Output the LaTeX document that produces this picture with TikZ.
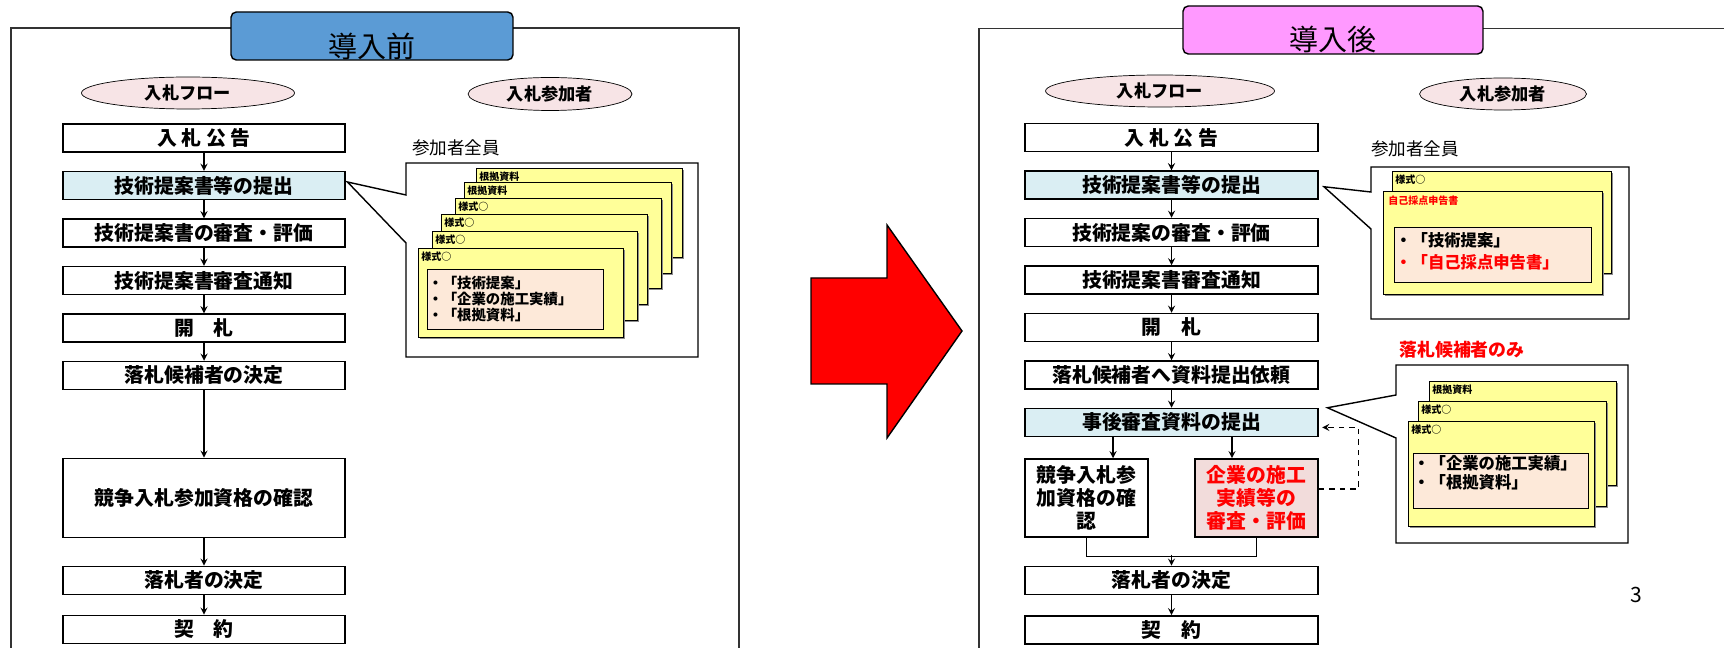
\documentclass[tikz,border=0pt]{standalone}
\usepackage{fontspec}
\setmainfont{Noto Sans CJK JP}
\IfFontExistsTF{Noto Sans CJK JP Black}
    {\newfontfamily\heavy{Noto Sans CJK JP Black}}
    {\newcommand{\heavy}{\bfseries}}
\usetikzlibrary{positioning,shapes.geometric,shadows,calc}

\definecolor{titleblue}{HTML}{5B9BD5}
\definecolor{titlepink}{HTML}{FF99FF}
\definecolor{ovalpink}{HTML}{F7E4E6}
\definecolor{stepblue}{HTML}{DAEEF3}
\definecolor{pageyellow}{HTML}{FFFF99}
\definecolor{notepink}{HTML}{FDE9D9}
\definecolor{checkpink}{HTML}{F2DCDB}

\begin{document}
\begin{tikzpicture}[
    x=0.02cm, y=-0.02cm,
    node distance=0.95cm,
    stepbox/.style={rectangle, draw, thick, fill=white, minimum width=5.64cm, minimum height=0.56cm, inner sep=0pt, align=center, font=\fontsize{11.3}{13.3}\selectfont\heavy},
    rstepbox/.style={stepbox, minimum width=5.86cm},
    oval/.style={ellipse, draw, fill=ovalpink, inner sep=0pt, minimum height=0.64cm, font=\fontsize{9.8}{11}\selectfont\heavy},
    titlebox/.style={rectangle, rounded corners=3pt, draw, thick, minimum height=0.96cm},
    titletext/.style={inner sep=0pt, font=\fontsize{16.5}{18}\selectfont},
    page/.style={rectangle, draw, fill=pageyellow, anchor=north west, inner sep=0pt, drop shadow={shadow xshift=0.7pt, shadow yshift=-0.7pt, fill=black!45, opacity=1}},
    pagelabel/.style={anchor=west, inner sep=0pt, font=\fontsize{5.7}{6}\selectfont\heavy},
    note/.style={rectangle, draw, fill=notepink, anchor=north west, inner sep=0pt},
    notetext/.style={anchor=west, inner sep=0pt, align=left},
    callout/.style={draw, fill=white, thick},
    arrow/.style={->, >=stealth, thick}
]
    \useasboundingbox (0,0) rectangle (1724,648);

    % Frames
    \draw[line width=0.9pt, black!80] (11,660) -- (11,28) -- (739,28) -- (739,660);
    \draw[line width=0.9pt, black!80] (979,660) -- (979,28.5) -- (1740,28.5);

    % Titles
    \node[titlebox, fill=titleblue, minimum width=5.64cm] (before) at (372,36) {};
    \node[titletext] (beforetext) at (372,46) {導入前};
    \node[titlebox, fill=titlepink, minimum width=6cm] (after) at (1333,30) {};
    \node[titletext] (aftertext) at (1333,40) {導入後};

    % Ovals
    \node[oval, minimum width=4.26cm] (lflow) at (188,93) {入札フロー};
    \node[oval, minimum width=3.28cm, minimum height=0.66cm] (lpart) at (550,94) {入札参加者};
    \node[oval, minimum width=4.58cm] (rflow) at (1160,91) {入札フロー};
    \node[oval, minimum width=3.34cm] (rpart) at (1503,94) {入札参加者};

    % Flow before
    \node[stepbox] (lf1) at (204,138) {入\ 札\ 公\ 告};
    \node[stepbox, fill=stepblue, below of=lf1] (lf2) {技術提案書等の提出};
    \node[stepbox, below of=lf2] (lf3) {技術提案書の審査・評価};
    \node[stepbox, below of=lf3] (lf4) {技術提案書審査通知};
    \node[stepbox, below of=lf4] (lf5) {開　札};
    \node[stepbox, below of=lf5] (lf6) {落札候補者の決定};
    \node[stepbox, minimum height=1.58cm, below of=lf6, node distance=2.45cm] (lf7) {競争入札参加資格の確認};
    \node[stepbox, below of=lf7, node distance=1.65cm] (lf8) {落札者の決定};
    \node[stepbox, below of=lf8, node distance=0.98cm] (lf9) {契　約};

    \draw[arrow] (lf1) -- (lf2);
    \draw[arrow] (lf2) -- (lf3);
    \draw[arrow] (lf3) -- (lf4);
    \draw[arrow] (lf4) -- (lf5);
    \draw[arrow] (lf5) -- (lf6);
    \draw[arrow] (lf6) -- (lf7);
    \draw[arrow] (lf7) -- (lf8);
    \draw[arrow] (lf8) -- (lf9);

    % Participants before
    \node[inner sep=0pt, font=\fontsize{10}{12}\selectfont] (lall) at (456,148) {参加者全員};
    \draw[callout] (406,163) -- (698,163) -- (698,357) -- (406,357) -- (406,243) -- ([xshift=1pt,yshift=2pt]lf2.east) -- (406,195) -- cycle;
    \node[page, minimum width=4.12cm, minimum height=1.78cm] (lp1) at (476,168) {};
    \node[pagelabel] (lp1t) at ($(lp1.north west)+(3,9)$) {根拠資料};
    \node[page, minimum width=4.14cm, minimum height=1.82cm] (lp2) at (464,182) {};
    \node[pagelabel] (lp2t) at ($(lp2.north west)+(3,9)$) {根拠資料};
    \node[page, minimum width=4.12cm, minimum height=1.8cm] (lp3) at (455,198) {};
    \node[pagelabel] (lp3t) at ($(lp3.north west)+(3,9)$) {様式○};
    \node[page, minimum width=4.12cm, minimum height=1.8cm] (lp4) at (441,214) {};
    \node[pagelabel] (lp4t) at ($(lp4.north west)+(3,9)$) {様式○};
    \node[page, minimum width=4.1cm, minimum height=1.78cm] (lp5) at (432,231) {};
    \node[pagelabel] (lp5t) at ($(lp5.north west)+(3,9)$) {様式○};
    \node[page, minimum width=4.1cm, minimum height=1.78cm] (lp6) at (418,248) {};
    \node[pagelabel] (lp6t) at ($(lp6.north west)+(3,9)$) {様式○};
    \node[note, minimum width=3.52cm, minimum height=1.2cm] (lnote) at (427,269) {};
    \node[notetext, font=\fontsize{8.2}{9.1}\selectfont\heavy] (lnotet) at (428,299.5) {・「技術提案」\\・「企業の施工実績」\\・「根拠資料」};

    % Big arrow
    \draw[fill=red, thick] (811,278) -- (887,278) -- (887,225) -- (962,331) -- (887,438) -- (887,384) -- (811,384) -- cycle;

    % Flow after
    \node[rstepbox] (rf1) at (1171.5,137.5) {入\ 札\ 公\ 告};
    \node[rstepbox, fill=stepblue, below of=rf1] (rf2) {技術提案書等の提出};
    \node[rstepbox, below of=rf2] (rf3) {技術提案の審査・評価};
    \node[rstepbox, below of=rf3] (rf4) {技術提案書審査通知};
    \node[rstepbox, below of=rf4] (rf5) {開　札};
    \node[rstepbox, below of=rf5] (rf6) {落札候補者へ資料提出依頼};
    \node[rstepbox, fill=stepblue, below of=rf6] (rf7) {事後審査資料の提出};
    \node[stepbox, minimum width=2.46cm, minimum height=1.56cm, below of=rf7, node distance=1.51cm, xshift=-1.7cm] (rfA) {競争入札参\\加資格の確\\認};
    \node[stepbox, fill=checkpink, text=red, minimum width=2.46cm, minimum height=1.56cm, below of=rf7, node distance=1.51cm, xshift=1.7cm] (rfB) {企業の施工\\実績等の\\審査・評価};
    \node[rstepbox, below of=rf7, node distance=3.16cm] (rf8) {落札者の決定};
    \node[rstepbox, below of=rf8, node distance=0.99cm] (rf9) {契　約};

    \draw[arrow] (rf1) -- (rf2);
    \draw[arrow] (rf2) -- (rf3);
    \draw[arrow] (rf3) -- (rf4);
    \draw[arrow] (rf4) -- (rf5);
    \draw[arrow] (rf5) -- (rf6);
    \draw[arrow] (rf6) -- (rf7);
    \draw[arrow] ([xshift=-1.17cm]rf7.south) -- ([xshift=-1.17cm]rf7.south |- rfA.north);
    \draw[arrow] ([xshift=1.21cm]rf7.south) -- ([xshift=1.21cm]rf7.south |- rfB.north);
    \draw[thick] (rfA.south) -- ++(0,19) -| (rfB.south);
    \draw[arrow] ([yshift=0.22cm]rf8.north) -- (rf8.north);
    \draw[arrow] (rf8) -- (rf9);
    \draw[arrow, dashed, shorten >=2pt] ([yshift=0.18cm]rfB.east) -- ++(40,0) |- ([yshift=-0.1cm]rf7.east);

    % Participants after
    \node[inner sep=0pt, font=\fontsize{10}{12}\selectfont] (rall) at (1415,149) {参加者全員};
    \draw[callout] (1371,167) -- (1629,167) -- (1629,319) -- (1371,319) -- (1371,229) -- ([xshift=3pt,yshift=-1pt]rf2.east) -- (1371,192) -- cycle;
    \node[page, minimum width=4.38cm, minimum height=2.04cm] (rp1) at (1392,171) {};
    \node[pagelabel] (rp1t) at ($(rp1.north west)+(3,9)$) {様式○};
    \node[page, minimum width=4.38cm, minimum height=2.06cm] (rp2) at (1383,191) {};
    \node[pagelabel, text=red] (rp2t) at ($(rp2.north west)+(5,10)$) {自己採点申告書};
    \node[note, minimum width=3.94cm, minimum height=1.1cm] (rnote) at (1394,227) {};
    \node[notetext, font=\fontsize{9.3}{12.5}\selectfont\heavy] (rnotet) at (1395,251) {・「技術提案」\\\textcolor{red}{・「自己採点申告書」}};

    \node[inner sep=0pt, text=red, font=\fontsize{10.2}{12}\selectfont\heavy] (ronly) at (1462,350) {落札候補者のみ};
    \draw[callout] (1396,365) -- (1628,365) -- (1628,543) -- (1396,543) -- (1396,438) -- ([xshift=5pt]rf7.north east) -- (1396,395) -- cycle;
    \node[page, minimum width=3.74cm, minimum height=2.08cm] (rq1) at (1429,381) {};
    \node[pagelabel] (rq1t) at ($(rq1.north west)+(3,9)$) {根拠資料};
    \node[page, minimum width=3.76cm, minimum height=2.1cm] (rq2) at (1418,401) {};
    \node[pagelabel] (rq2t) at ($(rq2.north west)+(3,9)$) {様式○};
    \node[page, minimum width=3.72cm, minimum height=2.1cm] (rq3) at (1408,421) {};
    \node[pagelabel] (rq3t) at ($(rq3.north west)+(3,9)$) {様式○};
    \node[note, minimum width=3.5cm, minimum height=1.1cm] (rqnote) at (1413,453) {};
    \node[notetext, font=\fontsize{9.3}{10.8}\selectfont\heavy] (rqnotet) at (1413,472.5) {・「企業の施工実績」\\・「根拠資料」};

    % Page number
    \node[inner sep=0pt, font=\fontsize{12}{14}\selectfont] (pageno) at (1636,595) {3};
\end{tikzpicture}
\end{document}
